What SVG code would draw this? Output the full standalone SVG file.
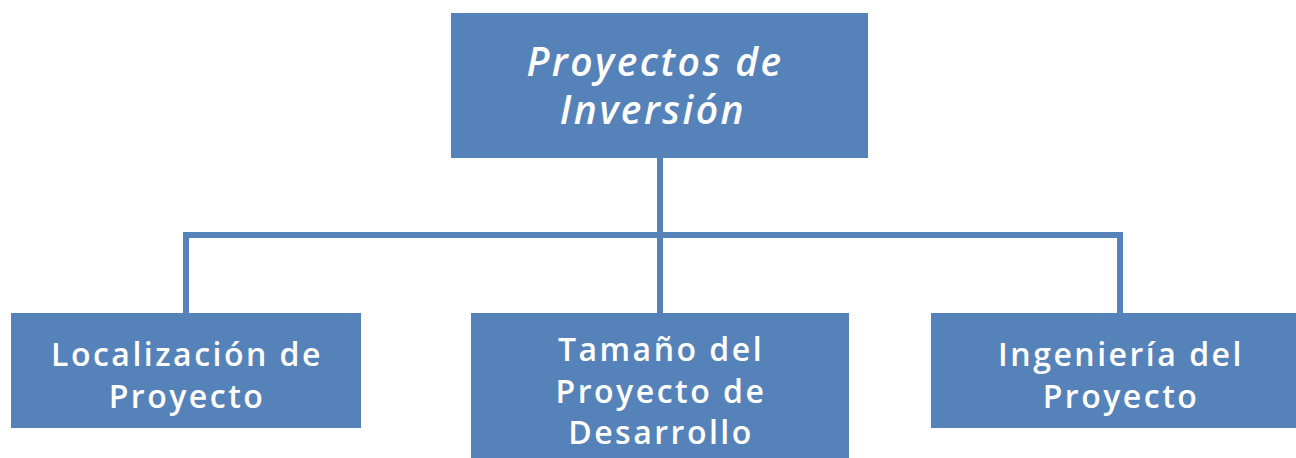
<svg xmlns="http://www.w3.org/2000/svg" width="1296" height="458" viewBox="0 0 1296 458">
<style>
.box{fill:#5682BA;}
.t{fill:#fff;font-family:"Open Sans","DejaVu Sans",sans-serif;font-size:32px;font-weight:600;text-anchor:middle;letter-spacing:2.5px;}
.ti{font-style:italic;font-size:39px;letter-spacing:2.5px;}
.c{stroke:#5682BA;stroke-width:6;fill:none;}
</style>
<rect width="1296" height="458" fill="#fff"/>
<g id="connectors">
<path class="c" d="M660 158V313M186 313V235H1120V313"/>
</g>
<g id="root">
<rect class="box" x="451" y="13" width="417" height="145"/>
<text class="t ti" x="655" y="76">Proyectos de</text>
<text class="t ti" x="653" y="124">Inversión</text>
</g>
<g id="localizacion">
<rect class="box" x="11" y="313" width="350" height="115"/>
<text class="t" x="187" y="366">Localización de</text>
<text class="t" x="187" y="408">Proyecto</text>
</g>
<g id="tamano">
<rect class="box" x="471" y="313" width="378" height="150"/>
<text class="t" x="661" y="361">Tamaño del</text>
<text class="t" x="661" y="403">Proyecto de</text>
<text class="t" x="661" y="444">Desarrollo</text>
</g>
<g id="ingenieria">
<rect class="box" x="931" y="313" width="370" height="115"/>
<text class="t" x="1121" y="366">Ingeniería del</text>
<text class="t" x="1121" y="408">Proyecto</text>
</g>
</svg>
